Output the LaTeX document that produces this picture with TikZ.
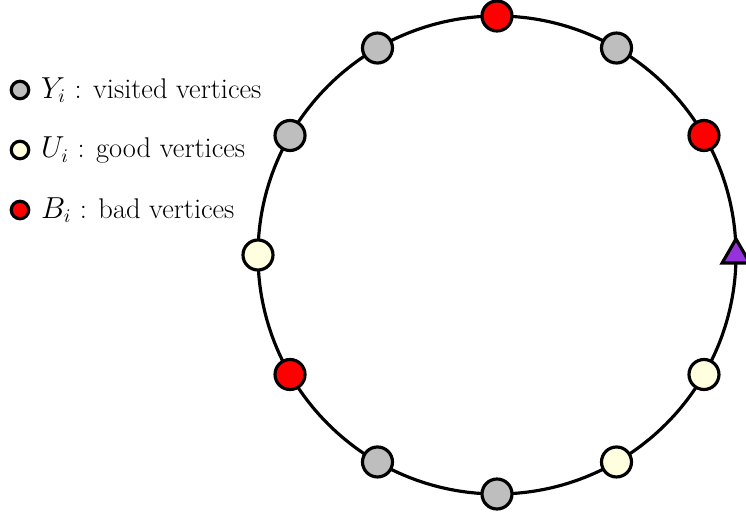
\documentclass[tikz,border=0pt]{standalone}
\usepackage{amsmath,amssymb}
\usepackage{xcolor}
\usetikzlibrary{positioning,shapes}

\definecolor{visgray}{RGB}{190,190,190}
\definecolor{goodyel}{RGB}{255,255,224}
\definecolor{badred}{RGB}{255,0,0}
\definecolor{startpur}{RGB}{150,50,220}

\begin{document}
\begin{tikzpicture}[x=0.02cm, y=0.02cm]
\tikzstyle{vtx}=[draw, circle, line width = 1.8pt, minimum size = 0.6cm, inner sep = 0pt]
\tikzstyle{key}=[draw, circle, line width = 1.8pt, minimum size = 0.35cm, inner sep = 0pt]
\tikzstyle{lbl}=[inner sep = 0pt, font = \fontsize{16.2}{19}\selectfont]

\useasboundingbox (-497,-258) rectangle (249,255);

\draw[line width = 1.8pt] (0,0) circle (239);

\node[vtx, fill = badred]  (v90)  at (90:239)  {};
\node[vtx, fill = visgray] (v60)  at (60:239)  {};
\node[vtx, fill = badred]  (v30)  at (30:239)  {};
\node[draw, regular polygon, regular polygon sides = 3, line width = 1.8pt, fill = startpur, minimum size = 0.64cm, inner sep = 0pt] (v0) at (0:239) {};
\node[vtx, fill = goodyel] (v330) at (-30:239) {};
\node[vtx, fill = goodyel] (v300) at (-60:239) {};
\node[vtx, fill = visgray] (v270) at (-90:239) {};
\node[vtx, fill = visgray] (v240) at (-120:239) {};
\node[vtx, fill = badred]  (v210) at (-150:239) {};
\node[vtx, fill = goodyel] (v180) at (180:239) {};
\node[vtx, fill = visgray] (v150) at (150:239) {};
\node[vtx, fill = visgray] (v120) at (120:239) {};

% legend
\node[key, fill = visgray] (kY) at (-477,165) {};
\node[key, fill = goodyel] (kU) at (-477,105) {};
\node[key, fill = badred]  (kB) at (-477,45)  {};
\node[lbl, right = 6pt of kY] (tY) {$Y_i$ : visited vertices};
\node[lbl, right = 6pt of kU] (tU) {$U_i$ : good vertices};
\node[lbl, right = 6pt of kB] (tB) {$B_i$ : bad vertices};
\end{tikzpicture}
\end{document}
